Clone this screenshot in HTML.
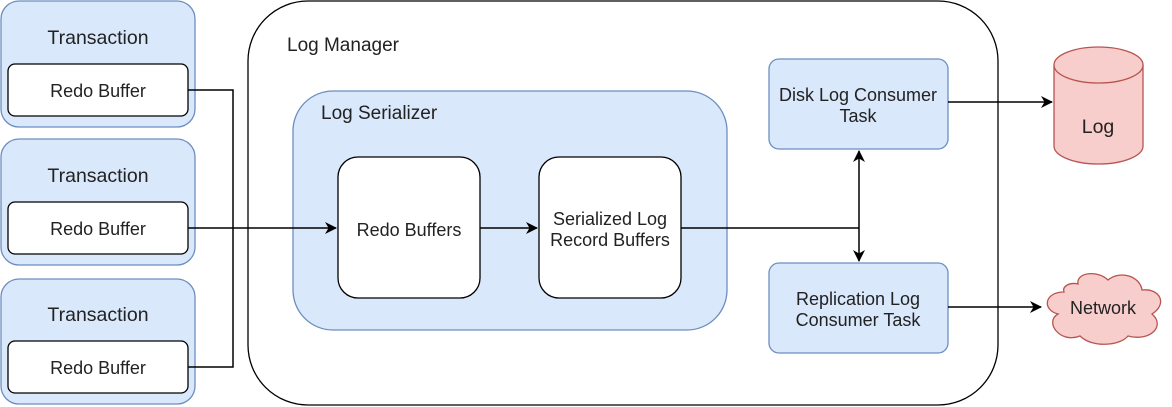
<!DOCTYPE html>
<html><head><style>body{margin:0;background:#fff}svg{display:block}text{font-family:"Liberation Sans",sans-serif;font-size:18px;fill:#222}</style></head><body>
<svg width="1172" height="407" viewBox="0 0 1172 407" xmlns="http://www.w3.org/2000/svg">
<defs><marker id="a" markerWidth="12" markerHeight="12" refX="11" refY="6" orient="auto" markerUnits="userSpaceOnUse"><path d="M0,0 L12,6 L0,12 L3.5,6 Z" fill="#000"/></marker></defs>
<g stroke="#6c8ebf" stroke-width="1.3" fill="#dae8fc">
<rect x="1" y="1" width="194" height="126" rx="18"/>
<rect x="1" y="139" width="194" height="126" rx="18"/>
<rect x="1" y="279" width="194" height="125" rx="18"/>
</g>
<g stroke="#000" stroke-width="1.3" fill="#fff">
<rect x="8" y="64" width="180" height="52" rx="7"/>
<rect x="8" y="202" width="180" height="52" rx="7"/>
<rect x="8" y="341" width="180" height="52" rx="7"/>
<rect x="248" y="1" width="750" height="404" rx="60"/>
</g>
<g text-anchor="middle">
<text x="98" y="44" style="font-size:19.5px">Transaction</text>
<text x="98" y="182" style="font-size:19.5px">Transaction</text>
<text x="98" y="321" style="font-size:19.5px">Transaction</text>
<text x="98" y="97">Redo Buffer</text>
<text x="98" y="235">Redo Buffer</text>
<text x="98" y="374">Redo Buffer</text>
</g>
<text x="287" y="51" style="font-size:19px">Log Manager</text>
<rect x="293" y="91" width="434" height="239" rx="40" fill="#dae8fc" stroke="#6c8ebf" stroke-width="1.3"/>
<text x="321" y="119" style="font-size:19px">Log Serializer</text>
<g stroke="#000" stroke-width="1.3" fill="#fff">
<rect x="338" y="157" width="142" height="141" rx="20"/>
<rect x="539" y="157" width="142" height="141" rx="20"/>
</g>
<g text-anchor="middle">
<text x="409" y="236">Redo Buffers</text>
<text x="610" y="225">Serialized Log</text>
<text x="610" y="246">Record Buffers</text>
</g>
<g stroke="#6c8ebf" stroke-width="1.3" fill="#dae8fc">
<rect x="769" y="59" width="179" height="90" rx="10"/>
<rect x="769" y="263" width="179" height="90" rx="10"/>
</g>
<g text-anchor="middle">
<text x="858" y="101">Disk Log Consumer</text>
<text x="858" y="122">Task</text>
<text x="858" y="305">Replication Log</text>
<text x="858" y="326">Consumer Task</text>
</g>
<g stroke="#b85450" stroke-width="1.3" fill="#f8cecc">
<path d="M1054,65 L1054,146 A44.5,18 0 0 0 1143,146 L1143,65 A44.5,18 0 0 0 1054,65 Z"/>
<path d="M1054,65 A44.5,18 0 0 0 1143,65"/>
<path d="M1064,292 C1044,292 1042,310 1058,314 C1044,322 1060,344 1080,336 C1092,348 1120,346 1128,336 C1150,342 1166,326 1152,314 C1168,304 1160,288 1142,290 C1140,276 1120,270 1108,280 C1098,270 1076,272 1078,284 C1070,282 1062,286 1064,292 Z"/>
</g>
<text x="1098" y="133" text-anchor="middle" style="font-size:19.5px">Log</text>
<text x="1103" y="314" text-anchor="middle">Network</text>
<g stroke="#000" stroke-width="1.5" fill="none">
<path d="M188,90 H233 V367 H188"/>
<path d="M188,228 H336" marker-end="url(#a)"/>
<path d="M480,228 H537" marker-end="url(#a)"/>
<path d="M681,228 H859"/>
<path d="M859,228 V151" marker-end="url(#a)"/>
<path d="M859,228 V261" marker-end="url(#a)"/>
<path d="M948,102 H1052" marker-end="url(#a)"/>
<path d="M948,307 H1041" marker-end="url(#a)"/>
</g>
</svg>
</body></html>
